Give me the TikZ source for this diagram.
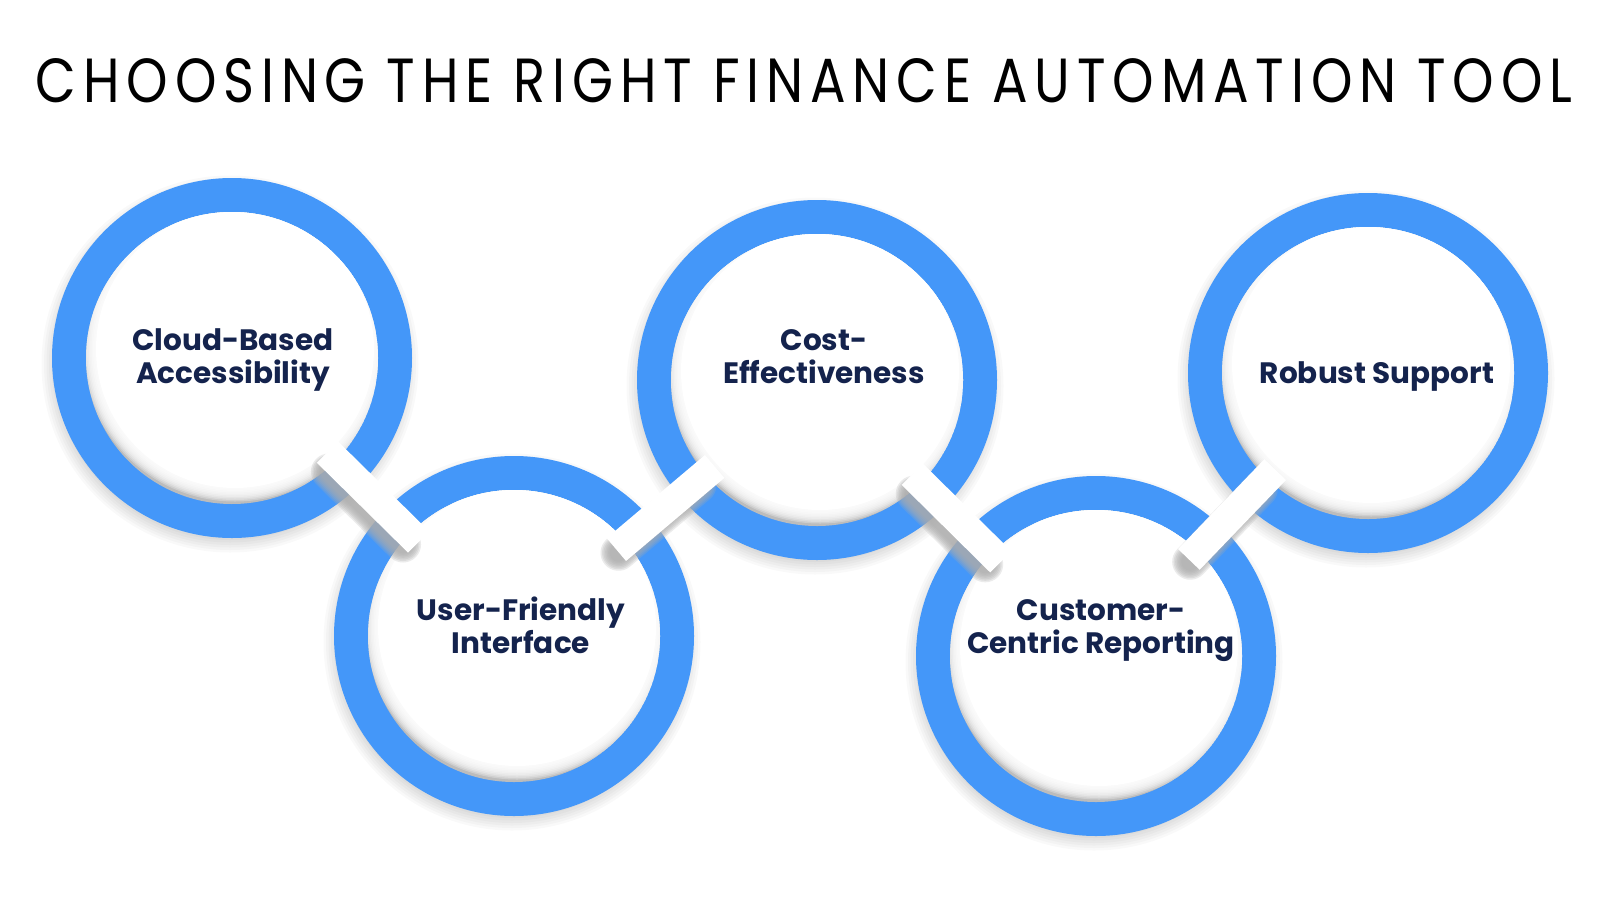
\documentclass[tikz,border=0pt]{standalone}
\usepackage{fontspec}
\usepackage{graphicx}
\setmainfont{Poppins}
\usetikzlibrary{calc}
\definecolor{ringblue}{HTML}{4497F9}
\definecolor{navy}{HTML}{14234D}
\definecolor{bandshadow}{HTML}{ACACAC}
\definecolor{innergrey}{HTML}{BCBCBC}
\begin{document}
\begin{tikzpicture}[x=1pt,y=-1pt,
  labeltext/.style={font=\bfseries\fontsize{29.5}{33}\selectfont, text=navy, align=center, inner sep=0pt},
  ringdisc/.style={fill=ringblue},
  bandwhite/.style={draw=white, line width=30pt, line cap=butt},
  bandshade/.style={draw=bandshadow, opacity=0.24, line cap=round},
]
\fill[white] (0,0) rectangle (1600,900);
\useasboundingbox (0,0) rectangle (1600,900);

\coordinate (c1) at (232,358);
\coordinate (c2) at (514,636);
\coordinate (c3) at (817,380);
\coordinate (c4) at (1096,656);
\coordinate (c5) at (1368,373);

% soft outer shadow of the rings
\foreach \c in {c1,c2,c3,c4,c5} {
  \foreach \k in {0,...,5}
    \fill[black, opacity=0.022] ($(\c)+(-2,6)$) circle ({176pt+\k*2.5pt});
}
% blue rings
\foreach \c in {c1,c2,c3,c4,c5} {
  \fill[ringdisc] (\c) circle (180pt);
}
% inner discs with inner shadow
\foreach \c in {c1,c2,c3,c4,c5} {
  \begin{scope}
    \clip (\c) circle (146pt);
    \fill[innergrey] (\c) circle (146pt);
    \foreach \k in {1,...,9}
      \fill[white, opacity=0.28] ($(\c)+(3,-9)$) circle ({139pt+\k*1.5pt});
    \fill[white] ($(\c)+(3,-9)$) circle (139pt);
  \end{scope}
}
% links between rings
\foreach \a/\b in {c1/c2,c2/c3,c3/c4,c4/c5} {
  \coordinate (s) at ($(\a)!146pt!(\b)$);
  \coordinate (e) at ($(\b)!146pt!(\a)$);
  \foreach \w in {36,33,30,27,24,21,18}
    \draw[bandshade, line width=\w pt] ($(s)+(-7,11)$) -- ($(e)+(-7,11)$);
  \coordinate (s2) at ($(\a)!134pt!(\b)$);
  \coordinate (e2) at ($(\b)!134pt!(\a)$);
  \draw[bandwhite] (s2) -- (e2);
}

% title
\node[anchor=base, inner sep=0pt] (title) at (804,102)
  {\resizebox{1536pt}{44pt}{\addfontfeature{LetterSpace=13}CHOOSING THE RIGHT FINANCE AUTOMATION TOOL}};

% labels
\node[labeltext] (l1) at (233,360) {Cloud-Based\\Accessibility};
\node[labeltext] (l2) at (521,625) {User-Friendly\\Interface};
\node[labeltext] (l3) at (824,357) {Cost-\\Effectiveness};
\node[labeltext] (l4) at (1101,631) {Customer-\\Centric Reporting};
\node[labeltext] (l5) at (1377,377) {Robust Support};
\end{tikzpicture}
\end{document}
